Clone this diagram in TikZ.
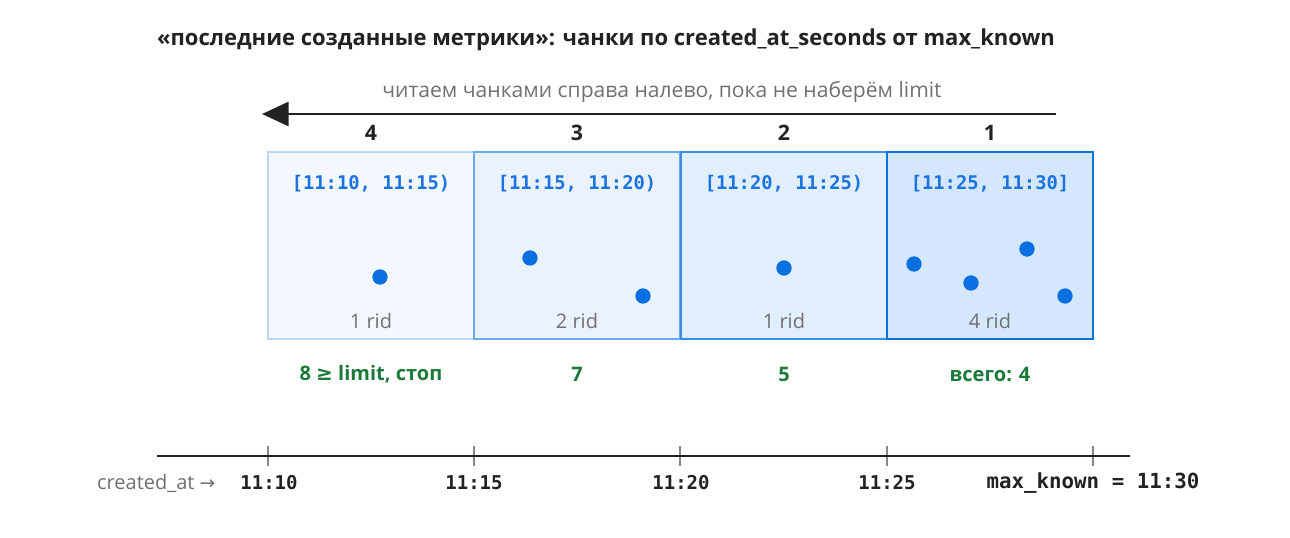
\documentclass[tikz,border=0pt]{standalone}
\usepackage{fontspec}
\setmainfont{Open Sans}
\setmonofont{DejaVu Sans Mono}
\newfontfamily\symf{DejaVu Sans}
\usetikzlibrary{arrows.meta}
\definecolor{inkdark}{HTML}{222222}
\definecolor{graytxt}{HTML}{707070}
\definecolor{greentxt}{HTML}{1B7A3A}
\definecolor{bluetxt}{HTML}{1A73E0}
\definecolor{dotblue}{HTML}{0A6FE0}
\definecolor{bdA}{HTML}{B8D8F5}\definecolor{fiA}{HTML}{F3F8FE}
\definecolor{bdB}{HTML}{6AAAEE}\definecolor{fiB}{HTML}{EAF3FD}
\definecolor{bdC}{HTML}{3A8EE6}\definecolor{fiC}{HTML}{E1EEFC}
\definecolor{bdD}{HTML}{0A74DA}\definecolor{fiD}{HTML}{D4E7FC}
\definecolor{ticks}{HTML}{888888}
\tikzset{
  chunk/.style={draw, line width=1.5pt, inner sep=0pt, minimum width=154.5pt, minimum height=140.25pt},
  rng/.style={font=\ttfamily\bfseries\fontsize{14.1}{16}\selectfont, text=bluetxt},
  rid/.style={font=\fontsize{15}{17}\selectfont, text=graytxt},
  num/.style={font=\bfseries\fontsize{16}{18}\selectfont, text=inkdark},
  tot/.style={font=\bfseries\fontsize{15}{17}\selectfont, text=greentxt},
  pt/.style={circle, fill=dotblue, inner sep=0pt, minimum size=11.5pt},
  tlab/.style={font=\ttfamily\bfseries\fontsize{14.3}{16}\selectfont, text=inkdark},
}
\begin{document}
\begin{tikzpicture}[x=0.75pt,y=-0.75pt]
\useasboundingbox (0,0) rectangle (1290,537);
% title
\node[font=\bfseries\fontsize{16.5}{19}\selectfont, text=inkdark] (title) at (606,40) {«последние созданные метрики»: чанки по created\_at\_seconds от max\_known};
% arrow
\coordinate (aS) at (1056,114);
\coordinate (aE) at (262,114);
\draw[line width=2.2pt, draw=inkdark, -{Triangle[length=20pt,width=18pt]}] (aS) -- (aE);
\node[font=\fontsize{15.8}{18}\selectfont, text=graytxt] (atext) at (662,92) {читаем чанками справа налево, пока не наберём limit};
% chunks
\node[chunk, draw=bdA, fill=fiA] (c4) at (371,245.5) {};
\node[chunk, draw=bdB, fill=fiB] (c3) at (577,245.5) {};
\node[chunk, draw=bdC, fill=fiC] (c2) at (783.5,245.5) {};
\node[chunk, draw=bdD, fill=fiD] (c1) at (990,245.5) {};
% numbers
\node[num] (n4) at (371,133) {4};
\node[num] (n3) at (577,133) {3};
\node[num] (n2) at (784,133) {2};
\node[num] (n1) at (990,133) {1};
% ranges
\node[rng] (r4) at (371,184) {[11:10, 11:15)};
\node[rng] (r3) at (577,184) {[11:15, 11:20)};
\node[rng] (r2) at (784,184) {[11:20, 11:25)};
\node[rng] (r1) at (990,184) {[11:25, 11:30]};
% dots
\node[pt] (p41) at (380,277) {};
\node[pt] (p31) at (530,258) {};
\node[pt] (p32) at (643,296) {};
\node[pt] (p21) at (784,268) {};
\node[pt] (p11) at (914,264) {};
\node[pt] (p12) at (971,283) {};
\node[pt] (p13) at (1027,249) {};
\node[pt] (p14) at (1065,296) {};
% rid counts
\node[rid] (k4) at (371,321) {1 rid};
\node[rid] (k3) at (577,321) {2 rid};
\node[rid] (k2) at (784,321) {1 rid};
\node[rid] (k1) at (990,321) {4 rid};
% totals
\node[tot] (t4) at (371,374) {8 {\symf ≥} limit, стоп};
\node[tot] (t3) at (577,374) {7};
\node[tot] (t2) at (784,374) {5};
\node[tot] (t1) at (990,374) {всего: 4};
% axis
\coordinate (xL) at (157,456);
\coordinate (xR) at (1130,456);
\foreach \n/\x in {a/268,b/474,c/680,d/887,e/1093}{
  \coordinate (tk\n top) at (\x,446);
  \coordinate (tk\n bot) at (\x,466);
  \draw[draw=ticks, line width=0.9pt] (tk\n top) -- (tk\n bot);
}
\draw[draw=inkdark, line width=2.2pt] (xL) -- (xR);
\node[font=\fontsize{15}{17}\selectfont, text=graytxt, anchor=east] (xlab) at (220,483) {created\_at {\symf\fontsize{14}{16}\selectfont →}};
\node[tlab] (l1) at (269,483) {11:10};
\node[tlab] (l2) at (474,483) {11:15};
\node[tlab] (l3) at (681,483) {11:20};
\node[tlab] (l4) at (887,483) {11:25};
\node[tlab, font=\ttfamily\bfseries\fontsize{15.6}{17}\selectfont] (l5) at (1093,483) {max\_known = 11:30};
\end{tikzpicture}
\end{document}
